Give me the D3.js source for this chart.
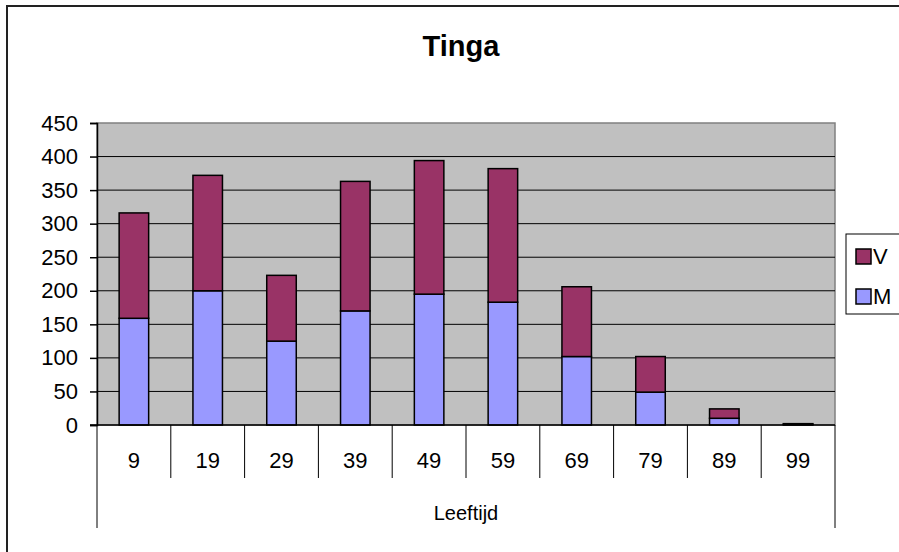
<!DOCTYPE html>
<html>
<head>
<meta charset="utf-8">
<script src="https://cdn.jsdelivr.net/npm/d3@7"></script>
<style>
  body { margin: 0; background: #fff; }
  svg { display: block; font-family: "Liberation Sans", Arial, sans-serif; }
</style>
</head>
<body>
<div id="chart"></div>
<script>
// age groups (upper bound of each bucket)
const categories = ["9", "19", "29", "39", "49", "59", "69", "79", "89", "99"];
const valuesM = [159, 200, 125, 170, 195, 183, 102, 49, 10, 1];
const valuesV = [157, 172, 98, 193, 199, 199, 104, 53, 14, 1];
const yTicks = [0, 50, 100, 150, 200, 250, 300, 350, 400, 450];
const series = [
  { key: "M", values: valuesM, color: "#9999FF" },
  { key: "V", values: valuesV, color: "#993366" }
];

const W = 899, H = 552;
const plot = { left: 97, right: 835, top: 123, bottom: 425 };

const svg = d3.select("#chart").append("svg")
  .attr("width", W).attr("height", H);

// outer chart frame
svg.append("rect")
  .attr("x", 7).attr("y", 6).attr("width", W + 10).attr("height", H + 10)
  .attr("fill", "#fff").attr("stroke", "#222").attr("stroke-width", 2);

const x = d3.scaleBand().domain(categories)
  .range([plot.left, plot.right]).paddingInner(0.6).paddingOuter(0.3);
const xCat = d3.scaleBand().domain(categories).range([plot.left, plot.right]);
const y = d3.scaleLinear().domain([0, 450]).range([plot.bottom, plot.top]);

// plot area background
svg.append("rect")
  .attr("x", plot.left).attr("y", plot.top)
  .attr("width", plot.right - plot.left).attr("height", plot.bottom - plot.top)
  .attr("fill", "#C0C0C0").attr("stroke", "#808080").attr("stroke-width", 1.5);

// gridlines
svg.append("g").selectAll("line").data(yTicks.filter(d => d > 0 && d < 450)).join("line")
  .attr("x1", plot.left).attr("x2", plot.right)
  .attr("y1", d => y(d)).attr("y2", d => y(d))
  .attr("stroke", "#000").attr("stroke-width", 1);

// stacked bars
const stackData = categories.map((c, i) => {
  const row = { cat: c };
  series.forEach(s => (row[s.key] = s.values[i]));
  return row;
});
const stacked = d3.stack().keys(series.map(s => s.key))(stackData);

stacked.forEach((layer, li) => {
  svg.append("g").selectAll("rect").data(layer).join("rect")
    .attr("x", d => x(d.data.cat))
    .attr("width", x.bandwidth())
    .attr("y", d => y(d[1]))
    .attr("height", d => y(d[0]) - y(d[1]))
    .attr("fill", series[li].color)
    .attr("stroke", "#000").attr("stroke-width", 1.5);
});

// y axis
const yAxis = svg.append("g")
  .attr("transform", `translate(${plot.left},0)`)
  .call(d3.axisLeft(y).tickValues(yTicks).tickSize(7).tickPadding(12));
yAxis.select(".domain").attr("stroke", "#000").attr("stroke-width", 1.5);
yAxis.selectAll(".tick line").attr("stroke", "#000").attr("stroke-width", 1.5);
yAxis.selectAll("text").attr("font-size", 22).attr("fill", "#000")
  .style("font-family", "'Liberation Sans', Arial, sans-serif");

// x axis baseline
svg.append("line")
  .attr("x1", plot.left - 7).attr("x2", plot.right)
  .attr("y1", plot.bottom).attr("y2", plot.bottom)
  .attr("stroke", "#000").attr("stroke-width", 1.5);

// category dividers
const bounds = categories.map(c => xCat(c)).concat([plot.right]);
svg.append("g").selectAll("line").data(bounds).join("line")
  .attr("x1", d => d).attr("x2", d => d)
  .attr("y1", plot.bottom)
  .attr("y2", (d, i) => (i === 0 || i === bounds.length - 1) ? 528 : 478)
  .attr("stroke", "#000").attr("stroke-width", 1);

// category labels
svg.append("g").selectAll("text").data(categories).join("text")
  .attr("x", d => xCat(d) + xCat.bandwidth() / 2)
  .attr("y", 468)
  .attr("text-anchor", "middle")
  .attr("font-size", 22)
  .text(d => d);

// axis title
svg.append("text")
  .attr("x", (plot.left + plot.right) / 2).attr("y", 520)
  .attr("text-anchor", "middle").attr("font-size", 20)
  .text("Leeftijd");

// chart title
svg.append("text")
  .attr("x", 461).attr("y", 56)
  .attr("text-anchor", "middle").attr("font-size", 29).attr("font-weight", "bold")
  .text("Tinga");

// legend
const legend = svg.append("g");
legend.append("rect")
  .attr("x", 846).attr("y", 234).attr("width", 70).attr("height", 80)
  .attr("fill", "#fff").attr("stroke", "#000").attr("stroke-width", 1);
const legendItems = series.slice().reverse();
legend.selectAll("g.item").data(legendItems).join("g")
  .attr("class", "item")
  .attr("transform", (d, i) => `translate(856,${249 + i * 40})`)
  .each(function (d) {
    const g = d3.select(this);
    g.append("rect").attr("width", 15).attr("height", 15)
      .attr("fill", d.color).attr("stroke", "#000").attr("stroke-width", 1.5);
    g.append("text").attr("x", 17).attr("y", 15)
      .attr("font-size", 22).text(d.key);
  });
</script>
</body>
</html>
